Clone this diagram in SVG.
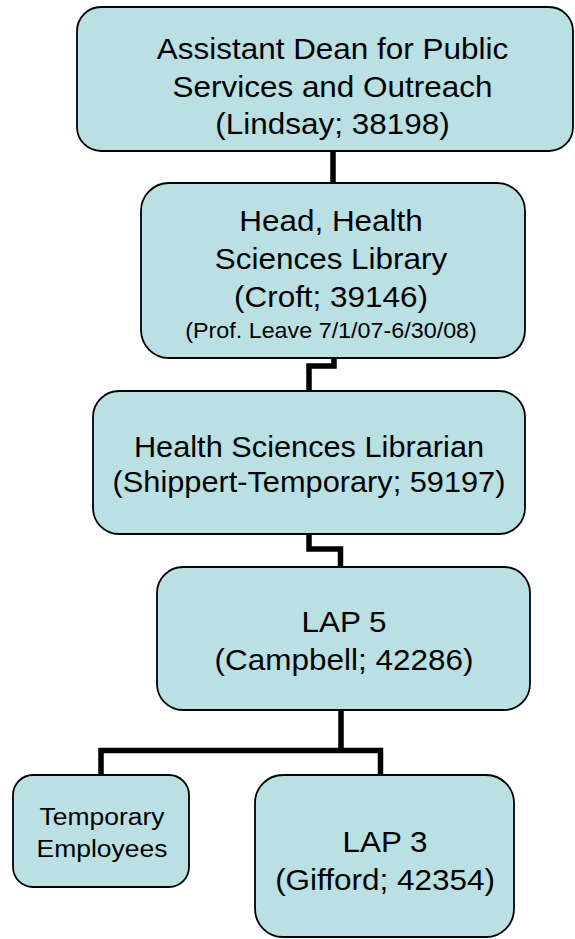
<svg xmlns="http://www.w3.org/2000/svg" width="575" height="939" viewBox="0 0 575 939">
<style>
.box{fill:#BAE0E3;stroke:#000;stroke-width:1.8}
.t{font-family:"Liberation Sans",Arial,sans-serif;font-size:29px;fill:#000;text-anchor:middle}
.s{font-size:21.5px}
.m{font-size:24.5px}
.c{fill:none;stroke:#000;stroke-width:5.5;stroke-linejoin:miter}
</style>
<rect width="575" height="939" fill="#fff"/>
<g id="connectors">
<path class="c" d="M333,151 V184"/>
<path class="c" d="M334,358 V366 H309 V391"/>
<path class="c" d="M309,534 V549 H340.5 V567"/>
<path class="c" d="M341,710 V750.5 M101,775 V750.5 H380.5 V775"/>
</g>
<g id="n1">
<rect class="box" x="77" y="7" width="496" height="144" rx="24"/>
<g transform="translate(332.5,0) scale(1.085,1)">
<text class="t" x="0" y="59">Assistant Dean for Public</text>
<text class="t" x="0" y="97">Services and Outreach</text>
<text class="t" x="0" y="134">(Lindsay; 38198)</text>
</g>
</g>
<g id="n2">
<rect class="box" x="141" y="183" width="384" height="175" rx="28"/>
<g transform="translate(331,0) scale(1.085,1)">
<text class="t" x="0" y="231">Head, Health</text>
<text class="t" x="0" y="269">Sciences Library</text>
<text class="t" x="0" y="307">(Croft; 39146)</text>
<text class="t s" x="0" y="338">(Prof. Leave 7/1/07-6/30/08)</text>
</g>
</g>
<g id="n3">
<rect class="box" x="93" y="391" width="432" height="143" rx="26"/>
<g transform="translate(309,0) scale(1.06,1)">
<text class="t" x="0" y="457">Health Sciences Librarian</text>
<text class="t" x="0" y="492">(Shippert-Temporary; 59197)</text>
</g>
</g>
<g id="n4">
<rect class="box" x="157" y="567" width="373" height="143" rx="26"/>
<g transform="translate(344,0) scale(1.085,1)">
<text class="t" x="0" y="632">LAP 5</text>
<text class="t" x="0" y="670">(Campbell; 42286)</text>
</g>
</g>
<g id="n5">
<rect class="box" x="13" y="775" width="176" height="112" rx="20"/>
<g transform="translate(102,0) scale(1.08,1)">
<text class="t m" x="0" y="825">Temporary</text>
<text class="t m" x="0" y="857">Employees</text>
</g>
</g>
<g id="n6">
<rect class="box" x="255" y="775" width="259" height="162" rx="28"/>
<g transform="translate(385,0) scale(1.085,1)">
<text class="t" x="0" y="852">LAP 3</text>
<text class="t" x="0" y="890">(Gifford; 42354)</text>
</g>
</g>
</svg>
